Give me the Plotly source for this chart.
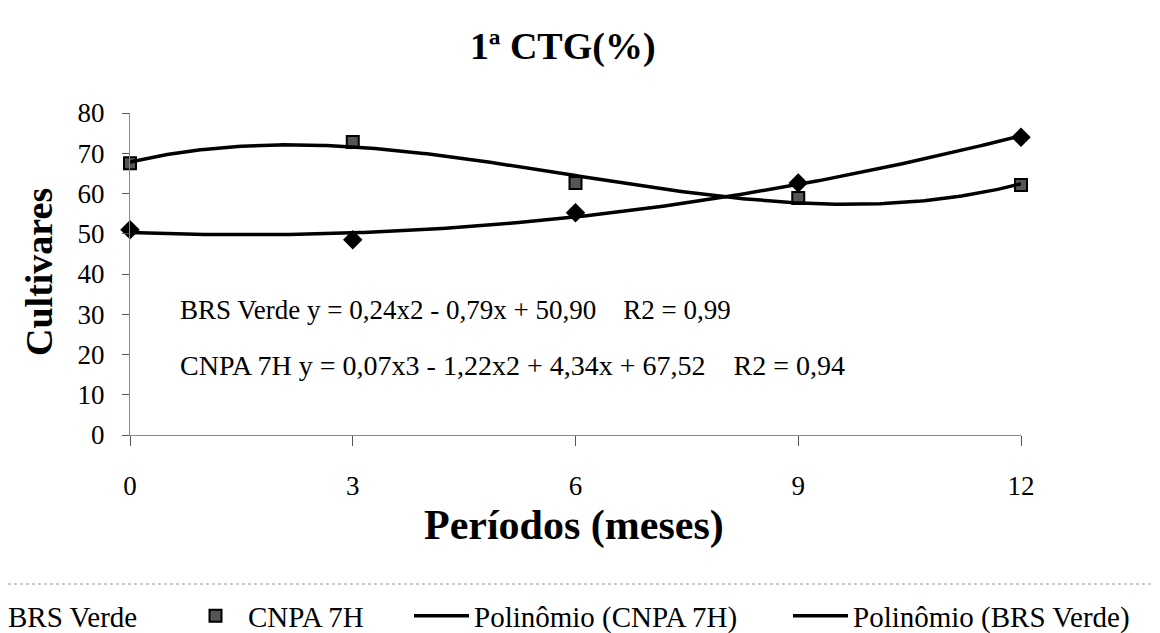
import numpy as np
import plotly.graph_objects as go

# ---- data ----
periodos = [0, 3, 6, 9, 12]
brs_verde = [51.0, 48.5, 55.2, 62.6, 74.0]
cnpa_7h = [67.5, 72.8, 62.6, 58.9, 62.1]
x_ticks = [0, 3, 6, 9, 12]
y_ticks = [0, 10, 20, 30, 40, 50, 60, 70, 80]
eq_brs = "BRS Verde y = 0,24x2 - 0,79x + 50,90    R2 = 0,99"
eq_cnpa = "CNPA 7H y = 0,07x3 - 1,22x2 + 4,34x + 67,52    R2 = 0,94"

# polynomial trend lines (as in the spreadsheet chart)
xf = np.linspace(0, 12, 241)
fit_brs = np.polyval(np.polyfit(periodos, brs_verde, 2), xf)
fit_cnpa = np.polyval(np.polyfit(periodos, cnpa_7h, 3), xf)

W, H = 1160, 633
L, R, T, B = 122, 147, 105, 206
pw = W - L - R
ph = H - T - B


def px(p):
    return (p - L) / pw


def py(p):
    return (H - B - p) / ph


SERIF = "Liberation Serif, Times New Roman, serif"

fig = go.Figure()
fig.add_trace(go.Scatter(
    x=periodos, y=brs_verde, mode="markers", name="BRS Verde",
    marker=dict(symbol="diamond", size=15, color="black"),
    cliponaxis=False, legend="legend"))
fig.add_trace(go.Scatter(
    x=periodos, y=cnpa_7h, mode="markers", name="CNPA 7H",
    marker=dict(symbol="square", size=12, color="#555555",
                line=dict(color="black", width=2)),
    cliponaxis=False, legend="legend2"))
fig.add_trace(go.Scatter(
    x=xf, y=fit_cnpa, mode="lines", name="Polinômio (CNPA 7H)",
    line=dict(color="black", width=3.5), cliponaxis=False, legend="legend3"))
fig.add_trace(go.Scatter(
    x=xf, y=fit_brs, mode="lines", name="Polinômio (BRS Verde)",
    line=dict(color="black", width=3.5), cliponaxis=False, legend="legend4"))

leg_common = dict(orientation="h", yanchor="middle", y=py(608), xanchor="left",
                  font=dict(family=SERIF, size=29, color="black"),
                  bgcolor="rgba(0,0,0,0)", itemwidth=55, borderwidth=0)
fig.update_layout(
    legend=dict(leg_common, x=px(-65)),
    legend2=dict(leg_common, x=px(175)),
    legend3=dict(leg_common, x=px(401)),
    legend4=dict(leg_common, x=px(780)),
)

fig.update_xaxes(
    range=[0, 12], tickvals=x_ticks, ticktext=[str(v) for v in x_ticks],
    showgrid=False, zeroline=False, showline=True, linecolor="#8a8a8a", linewidth=1,
    ticks="outside", ticklen=10, tickcolor="#555555", tickwidth=1,
    ticklabelstandoff=17,
    tickfont=dict(family=SERIF, size=27, color="black"))
fig.update_yaxes(
    range=[0, 80], tickvals=y_ticks, showgrid=False, zeroline=False,
    showline=True, linecolor="#8a8a8a", linewidth=1,
    ticks="outside", ticklen=7, tickcolor="#555555", tickwidth=1,
    ticklabelstandoff=12,
    tickfont=dict(family=SERIF, size=27, color="black"))

annots = [
    dict(text="<b>1ª CTG(%)</b>", x=px(555), y=py(38), font=dict(size=38)),
    dict(text="<b>Períodos (meses)</b>", x=px(566), y=py(517), font=dict(size=42)),
    dict(text="<b>Cultivares</b>", x=px(31), y=py(264), font=dict(size=38), textangle=-90),
    dict(text=eq_brs, x=px(170), y=py(302), xanchor="left", font=dict(size=27)),
    dict(text=eq_cnpa, x=px(170), y=py(357), xanchor="left", font=dict(size=28)),
]
for a in annots:
    a.setdefault("xanchor", "center")
    a["font"] = dict(family=SERIF, color="black", **a["font"])
    fig.add_annotation(xref="paper", yref="paper", yanchor="middle",
                       showarrow=False, **a)

# dotted separator line above the legend
fig.add_shape(type="line", xref="paper", yref="paper",
              x0=px(0), x1=px(1160), y0=py(576), y1=py(576),
              line=dict(color="#9a9a9a", width=1, dash="dot"))

fig.update_layout(
    width=W, height=H,
    margin=dict(l=L, r=R, t=T, b=B, autoexpand=False),
    paper_bgcolor="white", plot_bgcolor="white",
    showlegend=True,
)

fig.write_html("out.html")
